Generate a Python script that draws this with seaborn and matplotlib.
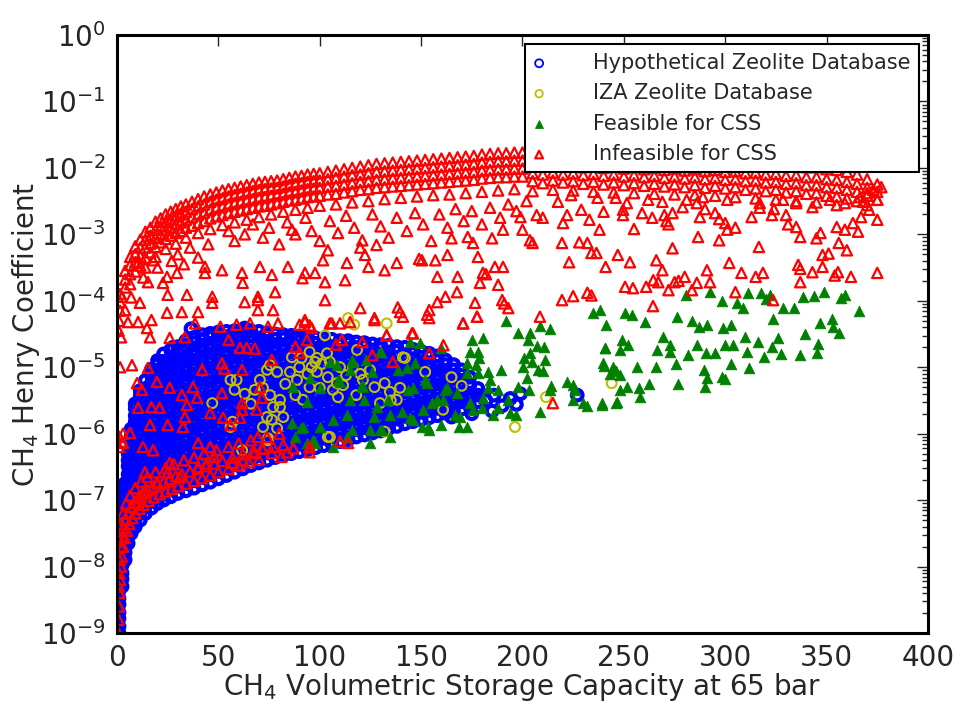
import numpy as np
import pandas as pd
import seaborn as sns
import matplotlib
matplotlib.use('Agg')
import matplotlib.pyplot as plt
from matplotlib.ticker import LogLocator, MultipleLocator

# values are (capacity, log10 of Henry coefficient)

# Hypothetical zeolites: dense cloud, written column by column
blue_cols = [
    (1.0, [-9.0, -8.9, -8.78, -8.69, -8.57, -8.48, -8.36, -8.27, -8.15, -8.06, -7.94, -7.85, -7.74, -7.64]),
    (2.5, [-8.3, -8.19, -8.1, -7.98, -7.89, -7.77, -7.68, -7.56, -7.47, -7.35, -7.26, -7.14, -7.04]),
    (4.0, [-7.9, -7.79, -7.7, -7.58, -7.49, -7.37, -7.28, -7.16, -7.07, -6.95, -6.86, -6.75]),
    (5.5, [-7.65, -7.54, -7.45, -7.33, -7.24, -7.12, -7.03, -6.91, -6.82, -6.7, -6.61, -6.49, -6.4, -6.3]),
    (7.0, [-7.5, -7.39, -7.3, -7.18, -7.09, -6.97, -6.88, -6.76, -6.67, -6.55, -6.46, -6.34, -6.25, -6.13, -6.04, -5.93]),
    (9.0, [-7.4, -7.29, -7.2, -7.08, -6.99, -6.87, -6.78, -6.66, -6.57, -6.45, -6.36, -6.24, -6.15, -6.03, -5.94, -5.82, -5.73, -5.62, -5.55]),
    (11.5, [-7.3, -7.19, -7.1, -6.98, -6.89, -6.77, -6.68, -6.56, -6.47, -6.35, -6.26, -6.14, -6.05, -5.93, -5.84, -5.72, -5.63, -5.51, -5.42, -5.35]),
    (14.0, [-7.2, -7.09, -7.0, -6.88, -6.79, -6.67, -6.58, -6.46, -6.37, -6.25, -6.16, -6.04, -5.95, -5.83, -5.74, -5.62, -5.53, -5.41, -5.32, -5.2]),
    (17.0, [-7.12, -7.01, -6.92, -6.8, -6.71, -6.59, -6.5, -6.38, -6.29, -6.17, -6.08, -5.96, -5.87, -5.75, -5.66, -5.54, -5.45, -5.33, -5.24, -5.12, -5.03]),
    (20.0, [-7.05, -6.94, -6.85, -6.73, -6.64, -6.52, -6.43, -6.31, -6.22, -6.1, -6.01, -5.89, -5.8, -5.68, -5.59, -5.47, -5.38, -5.26, -5.17, -5.05, -4.96, -4.9]),
    (23.0, [-7.0, -6.89, -6.8, -6.68, -6.59, -6.47, -6.38, -6.26, -6.17, -6.05, -5.96, -5.84, -5.75, -5.63, -5.54, -5.42, -5.33, -5.21, -5.12, -5.0, -4.91, -4.8]),
    (26.5, [-6.95, -6.84, -6.75, -6.63, -6.54, -6.42, -6.33, -6.21, -6.12, -6.0, -5.91, -5.79, -5.7, -5.58, -5.49, -5.37, -5.28, -5.16, -5.07, -4.95, -4.86, -4.74]),
    (30.0, [-6.9, -6.79, -6.7, -6.58, -6.49, -6.37, -6.28, -6.16, -6.07, -5.95, -5.86, -5.74, -5.65, -5.53, -5.44, -5.32, -5.23, -5.11, -5.02, -4.9, -4.81, -4.69]),
    (34.0, [-6.86, -6.75, -6.66, -6.54, -6.45, -6.33, -6.24, -6.12, -6.03, -5.91, -5.82, -5.7, -5.61, -5.49, -5.4, -5.28, -5.19, -5.07, -4.98, -4.86, -4.77, -4.67, -4.6]),
    (38.0, [-6.82, -6.71, -6.62, -6.5, -6.41, -6.29, -6.2, -6.08, -5.99, -5.87, -5.78, -5.66, -5.57, -5.45, -5.36, -5.24, -5.15, -5.03, -4.94, -4.82, -4.73, -4.63, -4.55]),
    (42.0, [-6.77, -6.66, -6.57, -6.45, -6.36, -6.24, -6.15, -6.03, -5.94, -5.82, -5.73, -5.61, -5.52, -5.4, -5.31, -5.19, -5.1, -4.98, -4.89, -4.77, -4.68, -4.58, -4.51]),
    (46.0, [-6.73, -6.62, -6.53, -6.41, -6.32, -6.2, -6.11, -5.99, -5.9, -5.78, -5.69, -5.57, -5.48, -5.36, -5.27, -5.15, -5.06, -4.94, -4.85, -4.73, -4.64, -4.55, -4.49]),
    (50.0, [-6.68, -6.57, -6.48, -6.36, -6.27, -6.15, -6.06, -5.94, -5.85, -5.73, -5.64, -5.52, -5.43, -5.31, -5.22, -5.1, -5.01, -4.89, -4.8, -4.68, -4.59, -4.52, -4.47]),
    (54.0, [-6.63, -6.52, -6.43, -6.31, -6.22, -6.1, -6.01, -5.89, -5.8, -5.68, -5.59, -5.47, -5.38, -5.26, -5.17, -5.05, -4.96, -4.84, -4.75, -4.63, -4.54, -4.46]),
    (58.0, [-6.58, -6.47, -6.38, -6.26, -6.17, -6.05, -5.96, -5.84, -5.75, -5.63, -5.54, -5.42, -5.33, -5.21, -5.12, -5.0, -4.91, -4.79, -4.7, -4.58, -4.5, -4.45]),
    (62.0, [-6.53, -6.42, -6.33, -6.21, -6.12, -6.0, -5.91, -5.79, -5.7, -5.58, -5.49, -5.37, -5.28, -5.16, -5.07, -4.95, -4.86, -4.74, -4.65, -4.54, -4.44]),
    (66.0, [-6.48, -6.37, -6.28, -6.16, -6.07, -5.95, -5.86, -5.74, -5.65, -5.53, -5.44, -5.32, -5.23, -5.11, -5.02, -4.9, -4.81, -4.69, -4.6, -4.52, -4.45]),
    (70.0, [-6.44, -6.33, -6.24, -6.12, -6.03, -5.91, -5.82, -5.7, -5.61, -5.49, -5.4, -5.28, -5.19, -5.07, -4.98, -4.86, -4.77, -4.65, -4.56, -4.46]),
    (74.0, [-6.4, -6.29, -6.2, -6.08, -5.99, -5.87, -5.78, -5.66, -5.57, -5.45, -5.36, -5.24, -5.15, -5.03, -4.94, -4.82, -4.73, -4.61, -4.53, -4.48]),
    (78.0, [-6.36, -6.25, -6.16, -6.04, -5.95, -5.83, -5.74, -5.62, -5.53, -5.41, -5.32, -5.2, -5.11, -4.99, -4.9, -4.78, -4.69, -4.58, -4.5]),
    (82.0, [-6.33, -6.22, -6.13, -6.01, -5.92, -5.8, -5.71, -5.59, -5.5, -5.38, -5.29, -5.17, -5.08, -4.96, -4.87, -4.75, -4.66, -4.57, -4.51]),
    (86.0, [-6.3, -6.19, -6.1, -5.98, -5.89, -5.77, -5.68, -5.56, -5.47, -5.35, -5.26, -5.14, -5.05, -4.93, -4.84, -4.72, -4.63, -4.52]),
    (90.0, [-6.27, -6.16, -6.07, -5.95, -5.86, -5.74, -5.65, -5.53, -5.44, -5.32, -5.23, -5.11, -5.02, -4.9, -4.81, -4.69, -4.6, -4.53]),
    (94.0, [-6.24, -6.13, -6.04, -5.92, -5.83, -5.71, -5.62, -5.5, -5.41, -5.29, -5.2, -5.08, -4.99, -4.87, -4.78, -4.66, -4.55]),
    (98.0, [-6.21, -6.1, -6.01, -5.89, -5.8, -5.68, -5.59, -5.47, -5.38, -5.26, -5.17, -5.05, -4.96, -4.84, -4.75, -4.64, -4.56]),
    (102.0, [-6.18, -6.07, -5.98, -5.86, -5.77, -5.65, -5.56, -5.44, -5.35, -5.23, -5.14, -5.02, -4.93, -4.81, -4.72, -4.63, -4.57]),
    (106.0, [-6.15, -6.04, -5.95, -5.83, -5.74, -5.62, -5.53, -5.41, -5.32, -5.2, -5.11, -4.99, -4.9, -4.78, -4.69, -4.58]),
    (110.0, [-6.12, -6.01, -5.92, -5.8, -5.71, -5.59, -5.5, -5.38, -5.29, -5.17, -5.08, -4.96, -4.87, -4.75, -4.66, -4.6]),
    (114.0, [-6.09, -5.98, -5.89, -5.77, -5.68, -5.56, -5.47, -5.35, -5.26, -5.14, -5.05, -4.93, -4.84, -4.72, -4.64, -4.6]),
    (118.0, [-6.05, -5.94, -5.85, -5.73, -5.64, -5.52, -5.43, -5.31, -5.22, -5.1, -5.01, -4.89, -4.8, -4.7, -4.62]),
    (122.0, [-6.02, -5.91, -5.82, -5.7, -5.61, -5.49, -5.4, -5.28, -5.19, -5.07, -4.98, -4.86, -4.77, -4.68, -4.63]),
    (126.0, [-5.99, -5.88, -5.79, -5.67, -5.58, -5.46, -5.37, -5.25, -5.16, -5.04, -4.95, -4.83, -4.74, -4.65]),
    (130.0, [-5.96, -5.85, -5.76, -5.64, -5.55, -5.43, -5.34, -5.22, -5.13, -5.01, -4.92, -4.8, -4.72, -4.66]),
    (134.0, [-5.92, -5.81, -5.72, -5.6, -5.51, -5.39, -5.3, -5.18, -5.09, -4.97, -4.88, -4.77, -4.67]),
    (138.0, [-5.89, -5.78, -5.69, -5.57, -5.48, -5.36, -5.27, -5.15, -5.06, -4.94, -4.85, -4.76, -4.69]),
    (142.0, [-5.85, -5.74, -5.65, -5.53, -5.44, -5.32, -5.23, -5.11, -5.02, -4.9, -4.81, -4.7]),
    (146.0, [-5.82, -5.71, -5.62, -5.5, -5.41, -5.29, -5.2, -5.08, -4.99, -4.87, -4.79, -4.73]),
    (150.0, [-5.79, -5.68, -5.59, -5.47, -5.38, -5.26, -5.17, -5.05, -4.96, -4.85, -4.76]),
    (154.0, [-5.76, -5.65, -5.56, -5.44, -5.35, -5.23, -5.14, -5.02, -4.93, -4.84, -4.79]),
    (158.0, [-5.73, -5.62, -5.53, -5.41, -5.32, -5.2, -5.11, -4.99, -4.9, -4.83]),
    (162.0, [-5.69, -5.58, -5.49, -5.37, -5.28, -5.16, -5.07, -4.96, -4.89]),
    (166.0, [-5.66, -5.55, -5.46, -5.34, -5.25, -5.13, -5.04, -4.96]),
    (170.0, [-5.63, -5.52, -5.43, -5.31, -5.22, -5.12, -5.04]),
    (174.0, [-5.59, -5.48, -5.39, -5.27, -5.15]),
    (178.0, [-5.52, -5.42, -5.32]),
]
blue_extra_x = [36.5, 42.4, 27.6, 32, 57, 64, 63, 70.5, 88, 94, 182, 186, 190, 194, 197, 199, 185, 227, 175, 165]
blue_extra_ly = [-4.42, -4.59, -4.7, -4.72, -4.54, -4.47, -4.41, -4.67, -4.56, -4.59, -5.5, -5.42, -5.58, -5.47, -5.56, -5.4, -5.66, -5.42, -5.7, -5.75]

# IZA zeolites
iza_x = [114, 117, 133, 102.6, 142, 75.5, 79, 74, 70.5, 68, 72, 75.5, 80.4, 77, 74, 76.4, 72, 74.5, 59, 58,
         86.3, 91, 95, 98.6, 103.6, 105, 98.6, 104, 108.5, 111.5, 106.5, 116.4, 118.4, 121.3, 85.3, 88.8, 95, 100,
         132, 134.6, 139.6, 138, 135, 129.7, 79, 80.4, 82, 91.7, 105, 124.8, 110, 96, 47, 56, 56, 57, 74.5, 61.7,
         97.7, 104, 141, 244, 211.6, 196.3, 170, 165, 160.8, 152, 132, 120, 113, 101, 94, 90, 83, 127, 118, 109,
         88, 63, 66]
iza_ly = [-4.26, -4.36, -4.34, -4.52, -4.86, -4.97, -5.07, -5.04, -5.19, -5.34, -5.31, -5.42, -5.49, -5.6, -5.75,
          -5.79, -5.9, -6.07, -5.19, -5.34, -4.85, -4.86, -4.77, -4.86, -4.79, -4.92, -5.07, -5.15, -5.24, -5.27,
          -5.34, -5.0, -4.74, -5.19, -5.07, -5.19, -5.3, -5.31, -5.24, -5.37, -5.31, -5.49, -5.5, -5.54, -5.92,
          -5.6, -5.75, -5.49, -6.05, -5.04, -5.0, -5.0, -5.54, -5.19, -5.9, -5.82, -6.1, -6.25, -4.92, -6.05, -4.85,
          -5.24, -5.45, -5.9, -5.28, -5.15, -5.64, -5.07, -5.97, -5.1, -5.12, -4.95, -5.1, -5.0, -5.25, -5.3, -5.42,
          -5.45, -5.42, -5.4, -5.55]

# feasible for CSS
feas_x = [238, 241, 250.5, 254, 260.4, 240.7, 249, 252, 248, 239.7, 244.6, 248, 246, 256.5, 251.5, 248, 257.5,
          258, 262.4, 246.6, 239, 265.8, 269.3, 266.3, 272.7, 273, 276, 275.7, 276.7, 281.6, 283.7, 287, 286,
          290.5, 291, 295, 289.5, 291, 290, 299, 303, 300, 304, 298.4, 300, 303, 280.6, 292.5, 298.4, 306, 309,
          311, 309.7, 316, 310.7, 311.7, 319, 323, 326, 327.5, 323.6, 317.6, 322, 320, 328.5, 334, 338.4, 343.8,
          348.7, 337, 339.4, 346.7, 352.6, 353, 356, 345.7, 345.3, 357, 359, 366,
          192, 198, 203.7, 202.7, 208.6, 213.6, 207, 210.6, 203.7, 200.7, 204.7, 211, 200.3, 207.6, 210, 202, 198,
          203, 189.4, 183, 184, 183, 180.5, 188, 193, 188, 194, 197, 185.5, 180, 172.6, 169, 160, 154, 153, 162,
          167.7, 160.8, 155.4, 151, 174, 175.6, 172.6, 178, 172.6, 177, 174, 178, 175, 180.5, 178.5, 222, 225, 226,
          230, 225, 232, 239, 246, 208.6, 213.6, 214, 240, 240.7, 235, 245, 243,
          144.5, 149.4, 160, 130, 123, 116.5, 108.5, 105, 115, 126, 138.6, 143, 152, 147, 110, 100, 121, 146,
          162.8, 158, 95, 115, 122, 133.7, 140.6, 144.5, 127, 113.4, 106.5, 100, 124.8, 129.7, 134.6, 113.4, 106.5,
          96.7, 91.7, 153.4, 166.7, 168.7, 86.8, 93.7, 86.3, 91, 93.7, 87.8, 97.7, 109, 116, 121.3, 129.7, 128,
          134.6, 130.7, 124.8, 116, 143.5, 146, 150.4]
feas_ly = [-4.14, -4.36, -4.18, -4.21, -4.32, -4.71, -4.59, -4.67, -4.74, -4.94, -5.0, -5.12, -5.06, -5.0, -5.3,
           -5.34, -5.31, -5.45, -5.25, -5.52, -5.54, -5.0, -4.55, -4.74, -4.67, -4.77, -4.24, -4.95, -5.25, -4.82,
           -4.3, -4.39, -4.67, -4.79, -4.36, -4.79, -5.04, -5.16, -5.3, -4.41, -4.36, -4.67, -4.67, -5.15, -5.17,
           -4.95, -3.91, -3.87, -4.0, -4.03, -4.11, -3.89, -4.55, -4.62, -4.77, -5.01, -4.85, -4.7, -4.56, -4.8,
           -4.27, -3.89, -3.91, -3.98, -4.11, -4.11, -3.94, -3.93, -3.87, -4.82, -4.5, -4.34, -4.27, -4.39, -4.49,
           -4.65, -4.79, -3.96, -3.91, -4.15,
           -4.3, -4.49, -4.49, -4.59, -4.38, -4.43, -4.68, -4.7, -4.79, -4.86, -4.92, -4.89, -5.0, -5.04, -5.05,
           -5.16, -5.3, -5.34, -5.04, -5.07, -5.19, -5.31, -5.46, -5.34, -5.49, -5.61, -5.69, -5.72, -5.72, -5.61,
           -5.9, -5.75, -5.87, -5.95, -5.24, -5.34, -5.39, -5.49, -5.54, -5.64, -5.54, -5.64, -5.09, -5.09, -4.94,
           -4.97, -4.77, -4.77, -4.59, -4.56, -4.86, -5.22, -5.27, -5.34, -5.54, -5.49, -5.58, -5.57, -5.54, -5.67,
           -5.34, -5.28, -4.98, -4.71, -4.18, -5.04, -5.1,
           -4.62, -4.64, -4.71, -4.77, -4.89, -4.92, -4.97, -4.92, -5.04, -5.07, -5.04, -5.01, -5.19, -4.94, -5.22,
           -5.31, -5.27, -5.31, -5.31, -5.49, -5.16, -5.49, -5.49, -5.49, -5.67, -5.76, -5.75, -5.72, -5.79, -5.9,
           -5.95, -5.95, -6.05, -6.05, -6.2, -6.1, -5.9, -5.9, -5.72, -5.9, -5.3, -5.52, -5.84, -5.92, -6.14, -6.05,
           -6.14, -5.19, -4.89, -5.3, -4.77, -5.6, -5.72, -5.95, -6.14, -5.95, -5.34, -5.79, -5.9]

# infeasible for CSS: upper band, written column by column
infeas_cols = [
    (1.5, [-3.9, -4.02, -4.15]), (4, [-3.55, -3.68, -3.8]), (6.5, [-3.34, -3.46, -3.6, -3.75]),
    (9, [-3.18, -3.3, -3.42, -3.56]), (11.5, [-3.08, -3.2, -3.33, -3.47]), (14, [-2.96, -3.08, -3.2, -3.35, -3.5]),
    (16.5, [-2.9, -3.02, -3.14, -3.27]), (19, [-2.81, -2.93, -3.05, -3.19, -3.34]), (21.5, [-2.76, -2.88, -3.0, -3.12]),
    (24, [-2.7, -2.82, -2.94, -3.07, -3.22]), (26.5, [-2.66, -2.78, -2.9, -3.02]), (29, [-2.62, -2.73, -2.85, -2.98, -3.14]),
    (31.5, [-2.58, -2.7, -2.82, -2.95]), (34, [-2.55, -2.66, -2.78, -2.9, -3.05]), (37, [-2.51, -2.62, -2.74, -2.87]),
    (40, [-2.47, -2.58, -2.7, -2.83, -2.98]), (43, [-2.43, -2.55, -2.67, -2.8]), (46, [-2.4, -2.51, -2.63, -2.76, -2.92]),
    (49, [-2.37, -2.48, -2.6, -2.73]), (52, [-2.34, -2.46, -2.58, -2.71, -2.86]), (55, [-2.32, -2.43, -2.55, -2.68]),
    (58, [-2.3, -2.41, -2.53, -2.66, -2.82]), (61, [-2.28, -2.39, -2.51, -2.64]), (64, [-2.26, -2.37, -2.49, -2.62, -2.78]),
    (67, [-2.24, -2.35, -2.47, -2.6]), (70, [-2.22, -2.33, -2.45, -2.58, -2.74]), (73, [-2.21, -2.32, -2.44, -2.57]),
    (76, [-2.2, -2.31, -2.42, -2.55, -2.7]), (79, [-2.19, -2.3, -2.41, -2.53]), (82, [-2.17, -2.28, -2.39, -2.51, -2.66]),
    (85, [-2.15, -2.26, -2.37, -2.49]), (88, [-2.13, -2.24, -2.36, -2.48, -2.63]), (91, [-2.12, -2.23, -2.34, -2.46]),
    (94, [-2.1, -2.21, -2.32, -2.44, -2.6]), (97, [-2.09, -2.2, -2.31, -2.43]), (100, [-2.08, -2.19, -2.3, -2.42, -2.57]),
    (104, [-2.06, -2.17, -2.28, -2.4]), (108, [-2.04, -2.15, -2.27, -2.39, -2.55]), (112, [-2.02, -2.13, -2.25, -2.37]),
    (116, [-2.0, -2.11, -2.23, -2.35, -2.52]), (120, [-1.98, -2.1, -2.21, -2.33]), (124, [-1.96, -2.08, -2.2, -2.32, -2.5]),
    (128, [-1.94, -2.06, -2.18, -2.3]), (132, [-1.93, -2.05, -2.17, -2.29, -2.47]), (136, [-1.92, -2.04, -2.16, -2.28]),
    (140, [-1.91, -2.03, -2.15, -2.27, -2.45]), (144, [-1.9, -2.02, -2.14, -2.26]), (148, [-1.89, -2.01, -2.13, -2.25, -2.43]),
    (152, [-1.88, -2.0, -2.12, -2.24]), (156, [-1.87, -1.99, -2.11, -2.23, -2.41]), (160, [-1.86, -1.98, -2.1, -2.22]),
    (164, [-1.85, -1.97, -2.09, -2.21, -2.4]), (168, [-1.84, -1.96, -2.08, -2.2]), (172, [-1.83, -1.95, -2.07, -2.19, -2.38]),
    (176, [-1.82, -1.94, -2.06, -2.18]), (180, [-1.8, -1.92, -2.04, -2.16, -2.36]), (184, [-1.79, -1.91, -2.03, -2.15]),
    (188, [-1.78, -1.9, -2.02, -2.14, -2.34]), (192, [-1.78, -1.9, -2.02, -2.14]), (196, [-1.77, -1.89, -2.01, -2.13, -2.32]),
    (200, [-1.77, -1.89, -2.01, -2.13]), (205, [-1.8, -1.95, -2.08, -2.2, -2.35]), (210, [-1.82, -1.97, -2.1, -2.23]),
    (215, [-1.8, -1.95, -2.07, -2.19, -2.33]), (220, [-1.83, -1.98, -2.1, -2.22]), (225, [-1.81, -1.96, -2.08, -2.2, -2.34]),
    (230, [-1.84, -1.99, -2.11, -2.24]), (235, [-1.82, -1.97, -2.09, -2.21, -2.36]), (240, [-1.85, -2.0, -2.12, -2.25]),
    (245, [-1.83, -1.98, -2.1, -2.22, -2.37]), (250, [-1.86, -2.01, -2.13, -2.26]), (255, [-1.84, -1.99, -2.11, -2.23, -2.38]),
    (260, [-1.87, -2.02, -2.14, -2.27]), (265, [-1.85, -2.0, -2.12, -2.24, -2.39]), (270, [-1.88, -2.03, -2.15, -2.28]),
    (275, [-1.86, -2.01, -2.13, -2.25, -2.4]), (280, [-1.89, -2.04, -2.16, -2.29]), (285, [-1.87, -2.02, -2.14, -2.26, -2.41]),
    (290, [-1.9, -2.05, -2.17, -2.3]), (295, [-1.88, -2.03, -2.15, -2.27, -2.42]), (300, [-1.91, -2.06, -2.18, -2.31]),
    (305, [-1.9, -2.05, -2.17, -2.29, -2.44]), (310, [-1.93, -2.08, -2.2, -2.33]), (315, [-1.92, -2.07, -2.19, -2.31, -2.46]),
    (320, [-1.95, -2.1, -2.22, -2.35]), (325, [-1.94, -2.09, -2.21, -2.33, -2.48]), (330, [-1.97, -2.12, -2.24, -2.37]),
    (335, [-1.96, -2.11, -2.23, -2.35, -2.5]), (340, [-1.99, -2.14, -2.26, -2.39]), (345, [-1.99, -2.14, -2.26, -2.38, -2.52]),
    (350, [-2.02, -2.17, -2.29, -2.42]), (355, [-2.03, -2.18, -2.3, -2.43, -2.56]), (360, [-2.06, -2.21, -2.33, -2.46]),
    (365, [-2.1, -2.24, -2.36, -2.5]), (370, [-2.17, -2.3, -2.42, -2.56]), (375, [-2.25, -2.36, -2.48]),
]
# infeasible: scattered points below the band
infeas_sx = [2.5, 4, 5.4, 11.3, 10.4, 16.3, 14.8, 17, 25, 24.7, 26, 32, 33.5, 34.5, 38.5, 40, 47, 51, 55, 59, 63,
             65.6, 69.5, 69.5, 74.5, 77, 79.4, 90, 92.7, 96, 102.6, 106, 120, 127, 133, 139.6, 138.5, 145.5, 153,
             154, 158, 162, 170.7, 177.6, 176.6, 190, 191, 193, 188, 179, 180.5, 182, 190.4, 168, 167.7, 158, 150.4,
             149, 157, 163, 165, 173, 175.6, 185, 178, 186.4, 190.4, 200, 199, 203.7, 138, 132, 124, 121, 122.3, 128,
             113.4, 112.5, 102.6, 101.6, 104, 97.7, 92.7, 91.5, 86.3, 84.3, 76.4, 70.5, 78, 69.5, 61.7, 51.8, 62, 47,
             43.4, 43.4, 29.6, 24.7, 22.7, 15.3, 17.8, 10.4,
             55, 58, 63, 67, 72, 75, 80, 84, 88, 93, 96, 100, 105, 109, 113, 117, 120, 126, 130, 134, 138, 143, 147,
             151, 155, 159, 163, 167, 171, 175, 180, 184, 189, 193, 197, 202, 36, 40, 45, 30, 33, 27, 20, 13, 7,
             219.5, 205, 223, 228, 232, 234, 236.5, 241, 247, 253, 255, 266, 269, 274, 250.6, 254.5, 261, 264.5, 267,
             272, 275, 277, 280, 283.6, 286, 291, 292.5, 286.6, 297, 302, 305, 308, 315, 318.6, 316.6, 323.6, 264.4,
             208.6, 219.5, 225, 232, 234, 336, 337, 337, 343, 348, 355.6, 354, 362, 375, 348, 351, 356, 360, 345,
             347, 355, 359, 365.5, 363, 375, 367, 371, 375, 377, 373, 368, 335, 337, 330, 331, 323, 324, 317, 313,
             305, 300, 301, 297, 295, 290, 287.5, 279, 274, 270, 271, 272, 264, 259, 249.6, 249.6, 240, 238, 233,
             229, 222, 220, 210, 207, 217.5, 224, 237, 246, 251.5, 262, 269, 281, 286, 289, 301, 317, 328.5, 335,
             343, 351.7, 359, 366.5, 370, 215,
             1, 0.8, 2, 1.2, 2.5, 1, 3, 1.5]
infeas_sly = [-3.94, -4.14, -4.32, -4.03, -4.32, -4.55, -4.41, -4.29, -3.91, -4.18, -4.56, -4.17, -4.55, -3.91,
              -4.34, -4.17, -4.03, -4.39, -4.59, -4.36, -4.02, -4.34, -3.94, -4.14, -4.39, -4.14, -4.34, -4.36,
              -4.29, -4.41, -3.99, -4.34, -4.11, -4.26, -4.52, -4.17, -4.1, -4.49, -4.21, -4.14, -4.02, -3.94,
              -4.34, -4.24, -4.03, -3.99, -4.04, -4.11, -3.76, -3.73, -3.58, -3.6, -3.49, -3.64, -3.87, -3.64,
              -3.39, -3.37, -3.39, -3.31, -3.06, -3.04, -3.13, -3.06, -3.34, -3.49, -2.93, -2.93, -2.74, -3.09,
              -3.43, -3.54, -3.49, -3.09, -3.31, -3.16, -3.43, -3.69, -3.72, -3.39, -3.24, -3.58, -3.58, -3.66,
              -2.93, -3.49, -3.61, -3.49, -3.87, -3.99, -3.58, -3.54, -3.73, -3.94, -3.58, -3.49, -3.58, -3.64,
              -3.73, -3.72, -3.39, -3.43,
              -2.95, -3.1, -3.0, -2.85, -3.05, -2.9, -3.15, -2.82, -3.0, -2.75, -2.95, -3.1, -2.8, -2.98, -2.72,
              -2.9, -3.2, -2.7, -2.88, -3.05, -2.75, -2.95, -2.68, -2.85, -3.1, -2.7, -2.9, -2.62, -2.8, -2.65,
              -2.85, -2.6, -2.75, -2.55, -2.65, -2.5, -3.2, -3.35, -3.15, -3.3, -3.45, -3.4, -3.5, -3.65, -3.95,
              -3.13, -3.13, -3.42, -3.12, -3.13, -3.28, -3.28, -3.49, -3.31, -3.42, -2.92, -3.39, -3.54, -3.21,
              -3.79, -3.81, -3.79, -3.69, -3.72, -3.84, -3.72, -3.7, -3.64, -3.84, -3.73, -3.54, -3.72, -3.04,
              -3.09, -3.43, -3.87, -3.58, -3.64, -3.58, -3.19, -3.99, -4.08, -4.24, -3.99, -3.93, -3.88, -3.92,
              -3.46, -3.52, -3.72, -3.57, -3.49, -3.57, -3.62, -3.64, -3.58, -3.31, -3.29, -3.13, -3.24, -3.06,
              -2.98, -2.89, -2.93, -2.96, -2.83, -2.78, -2.74, -2.63, -2.48, -2.29, -2.33, -2.51, -2.89, -3.04,
              -2.71, -2.85, -2.71, -2.62, -2.6, -2.74, -2.9, -2.83, -2.93, -2.77, -2.68, -2.62, -2.74, -2.59,
              -2.68, -2.71, -2.8, -2.85, -2.75, -2.68, -2.71, -2.63, -2.66, -2.93, -2.78, -2.63, -2.71, -2.83,
              -2.75, -2.71, -2.51, -2.41, -2.45, -2.45, -2.53, -2.48, -2.51, -2.48, -2.53, -2.44, -2.48, -2.53,
              -2.48, -2.53, -2.59, -2.48, -2.53, -2.44, -2.38, -5.54,
              -4.3, -4.45, -4.55, -6.05, -6.12, -6.2, -6.0, -5.0]
# infeasible: lower edge of the cloud and points inside it
infeas_lx = [0.6, 0.8, 1.0, 1.2, 1.5, 1.9, 2.4, 3.0, 3.8, 4.8, 6.0, 7.5, 9, 11, 13, 15.5, 18, 21, 24, 27, 30, 34,
             38, 42, 46, 50, 55, 60, 65, 70,
             0.8, 1.0, 1.3, 1.8, 2.4, 3.2, 4.2, 5.5, 7, 8.5, 10.5, 12.5, 15, 17.5, 20, 23, 26, 29, 32, 36, 40, 44,
             48, 52, 57, 62, 67, 72, 77, 82,
             1.2, 2, 3, 4.5, 6.5, 9, 12, 15, 19, 24, 28, 33, 38, 43, 49, 55, 60, 66, 74, 80,
             7.4, 15.3, 9.9, 12.3, 19.7, 26, 32, 37.5, 39.5, 42, 51.8, 53, 61.7, 51.8, 34.5, 10.4, 17, 21, 3, 6.4,
             12.8, 17.8, 25, 32.5, 16.3, 33.5, 40, 46, 46, 52.3, 56, 60.7, 13.8, 19.7, 25, 31, 26, 10.4, 13.8,
             61.7, 69, 69.5, 71.5, 70.5, 61.7, 76.4, 68, 60.7, 64, 88, 90, 95, 114, 111, 126, 121, 108, 92.7, 95,
             105, 110, 115, 127, 133, 146, 154, 141, 170.7, 177.6, 161, 154, 136, 93.7, 40, 44, 48, 57, 62, 68,
             71.5, 76.4, 81, 84, 87, 95, 110]
infeas_lly = [-9.0, -8.8, -8.6, -8.4, -8.2, -8.0, -7.85, -7.7, -7.57, -7.46, -7.36, -7.27, -7.2, -7.13, -7.07,
              -7.01, -6.96, -6.91, -6.87, -6.83, -6.79, -6.75, -6.71, -6.67, -6.63, -6.58, -6.53, -6.48, -6.43, -6.39,
              -8.3, -8.1, -7.9, -7.7, -7.55, -7.42, -7.3, -7.2, -7.1, -7.03, -6.96, -6.9, -6.85, -6.8, -6.76, -6.72,
              -6.68, -6.64, -6.61, -6.57, -6.53, -6.49, -6.45, -6.41, -6.36, -6.31, -6.27, -6.23, -6.2, -6.17,
              -7.6, -7.35, -7.2, -7.05, -6.93, -6.82, -6.72, -6.65, -6.58, -6.52, -6.46, -6.4, -6.36, -6.3, -6.25,
              -6.2, -6.15, -6.1, -6.05, -6.0,
              -4.97, -5.01, -5.24, -5.34, -5.22, -5.31, -5.42, -5.3, -5.46, -5.04, -4.94, -5.02, -5.04, -5.39, -5.57,
              -5.61, -5.6, -5.61, -6.14, -5.99, -6.2, -6.25, -5.87, -5.9, -5.87, -5.75, -6.14, -6.2, -5.69, -5.76,
              -5.87, -5.76, -6.58, -6.73, -6.59, -6.65, -6.44, -7.04, -6.88, -5.64, -5.64, -6.05, -5.46, -5.3, -5.54,
              -4.89, -4.72, -4.71, -4.71, -4.69, -4.78, -6.2, -6.14, -4.59, -4.82, -4.62, -4.66, -4.32, -4.37, -4.34,
              -4.34, -4.32, -4.29, -4.52, -4.49, -4.26, -4.24, -4.34, -4.24, -4.67, -4.79, -4.92, -4.59, -6.5, -6.45,
              -6.35, -6.44, -6.4, -6.29, -6.22, -6.29, -6.35, -6.28, -6.22, -6.28, -6.12]


def cols_frame(cols):
    xs, ly = [], []
    for x, vals in cols:
        xs += [x] * len(vals)
        ly += vals
    return xs, ly


bx, bly = cols_frame(blue_cols)
hypo = pd.DataFrame({'x': bx + blue_extra_x, 'y': 10.0 ** np.array(bly + blue_extra_ly)})
iza = pd.DataFrame({'x': iza_x, 'y': 10.0 ** np.array(iza_ly)})
feas = pd.DataFrame({'x': feas_x, 'y': 10.0 ** np.array(feas_ly)})
rx, rly = cols_frame(infeas_cols)
infeas = pd.DataFrame({'x': rx + infeas_sx + infeas_lx,
                       'y': 10.0 ** np.array(rly + infeas_sly + infeas_lly)})

sns.set_style('white')
plt.rcParams['font.family'] = ['DejaVu Sans']
plt.rcParams['axes.unicode_minus'] = False

fig = plt.figure(figsize=(9.55, 7.02), dpi=100)
ax = fig.add_axes([0.1225, 0.0983, 0.8492, 0.8518])

# thick rings so that the overlapping circles close up into a solid cloud
sns.scatterplot(data=hypo, x='x', y='y', ax=ax, marker='o', s=58, facecolors='none',
                edgecolor='b', linewidth=3.0, label='Hypothetical Zeolite Database')
sns.scatterplot(data=iza, x='x', y='y', ax=ax, marker='o', s=50, facecolors='none',
                edgecolor='y', linewidth=1.5, label='IZA Zeolite Database')
sns.scatterplot(data=feas, x='x', y='y', ax=ax, marker='^', s=58, color='g',
                edgecolor='g', linewidth=0.6, label='Feasible for CSS')
sns.scatterplot(data=infeas, x='x', y='y', ax=ax, marker='^', s=55, facecolors='none',
                edgecolor='r', linewidth=1.6, label='Infeasible for CSS')

ax.set_yscale('log')
ax.set_xlim(0, 400)
ax.set_ylim(1e-9, 1)
ax.xaxis.set_major_locator(MultipleLocator(50))
ax.set_yticks(10.0 ** np.arange(-9, 1))
ax.yaxis.set_minor_locator(LogLocator(base=10, subs=np.arange(2, 10), numticks=12))
ax.tick_params(which='both', direction='in', top=True, right=True, labelsize=20, pad=8)
ax.tick_params(which='major', length=8, width=1)
ax.tick_params(which='minor', length=4, width=1)
for sp in ax.spines.values():
    sp.set_linewidth(2.2)
    sp.set_color('k')

ax.set_xlabel('CH$_4$ Volumetric Storage Capacity at 65 bar', fontsize=20, labelpad=-1)
ax.set_ylabel('CH$_4$ Henry Coefficient', fontsize=20, labelpad=-1)

leg = ax.legend(loc='upper right', fontsize=15, scatterpoints=1, handlelength=0.55, handletextpad=2.3,
                borderaxespad=0.45, fancybox=False, framealpha=1, edgecolor='k', markerscale=0.75)
leg.get_frame().set_linewidth(1.5)
for h in leg.legend_handles[:2]:
    h.set_linewidths(1.3)

fig.savefig('out.png', dpi=100)
